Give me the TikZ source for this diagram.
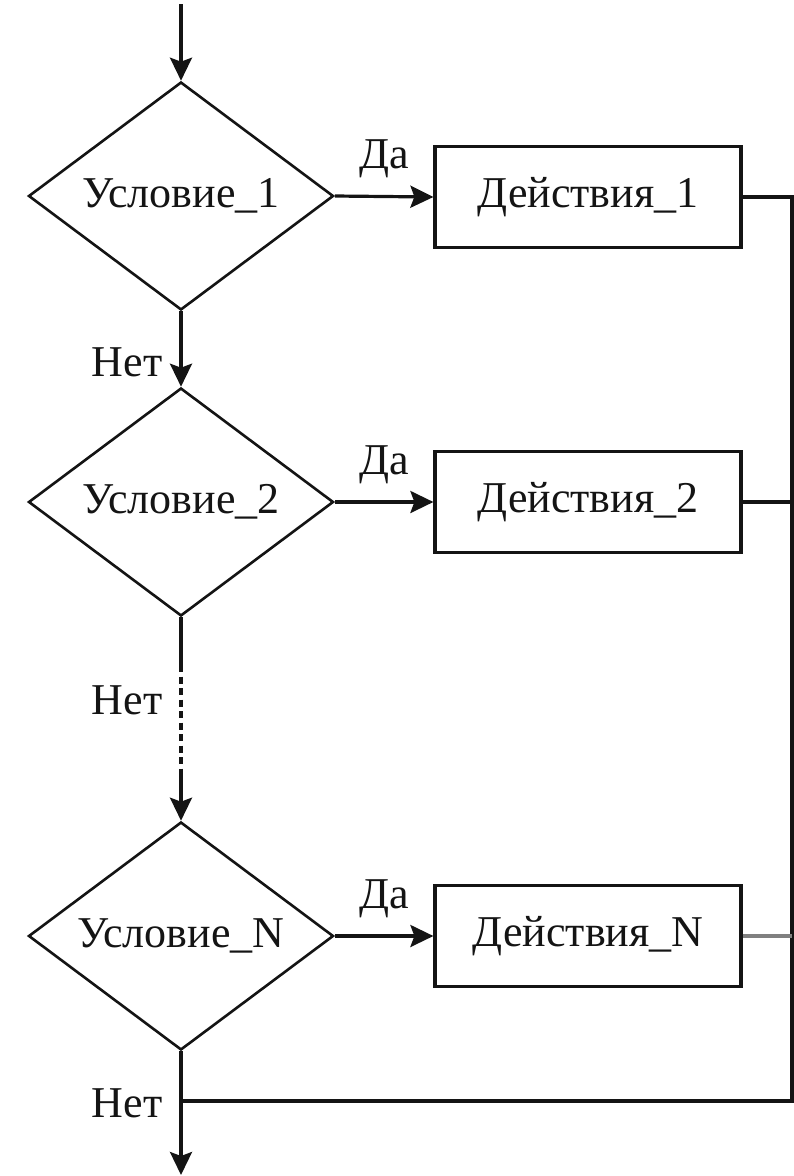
\documentclass[tikz,border=0pt]{standalone}
\usepackage{fontspec}
\setmainfont{Liberation Serif}
\usetikzlibrary{shapes.geometric,arrows.meta}
\definecolor{ink}{HTML}{141414}
\tikzset{
  base/.style={line width=3.2pt, draw=ink},
  txt/.style={font=\fontsize{44}{50}\selectfont, text=ink},
  cond/.style={base, line width=2.6pt, txt, shape=diamond, aspect=1.34, minimum width=305pt, minimum height=228pt, inner sep=0pt, fill=white},
  act/.style={base, txt, rectangle, minimum width=306pt, minimum height=101pt, inner sep=0pt, fill=white},
  arr/.style={base, -{Stealth[length=23pt,width=22pt,inset=4pt]}},
  wire/.style={base},
  lbl/.style={txt, inner sep=0pt},
}
\begin{document}
\begin{tikzpicture}[x=1pt,y=-1pt]
  \useasboundingbox (0,0) rectangle (794,1176);

  % decisions and actions
  \node[cond] (d1) at (181,196) {Условие\_1};
  \node[cond] (d2) at (181,502) {Условие\_2};
  \node[cond] (dN) at (181,936) {Условие\_N};
  \node[act] (r1) at (588,197) {Действия\_1};
  \node[act] (r2) at (588,502) {Действия\_2};
  \node[act] (rN) at (588,936) {Действия\_N};

  % helper points
  \coordinate (start) at (181,4);
  \coordinate (dashA) at (181,665);
  \coordinate (dashB) at (181,775);
  \coordinate (finish) at (181,1175);
  \coordinate (join) at (181,1101);
  \coordinate (bus1) at (792,197);
  \coordinate (bus2) at (792,502);
  \coordinate (busN) at (792,936);
  \coordinate (busEnd) at (792,1101);

  % entry
  \draw[arr] (start) -- (d1.north);

  % "yes" branches
  \draw[arr] (d1.east) -- node[lbl, above=17pt] {Да} (r1.west);
  \draw[arr] (d2.east) -- node[lbl, above=17pt] {Да} (r2.west);
  \draw[arr] (dN.east) -- node[lbl, above=17pt] {Да} (rN.west);

  % "no" chain
  \draw[arr] (d1.south) -- node[lbl, pos=0.67, left=17pt] {Нет} (d2.north);
  \draw[wire] (d2.south) -- (dashA);
  \draw[wire, dash pattern=on 7pt off 4.5pt] (dashA) -- node[lbl, pos=0.32, left=17pt] {Нет} (dashB);
  \draw[arr] (dashB) -- (dN.north);
  \draw[arr] (dN.south) -- node[lbl, pos=0.42, left=17pt] {Нет} (finish);

  % collecting bus on the right
  \draw[wire] (r1.east) -- (bus1) -- (busEnd) -- (join);
  \draw[wire] (r2.east) -- (bus2);
  \draw[wire, draw=gray] (rN.east) -- (busN);
\end{tikzpicture}
\end{document}
